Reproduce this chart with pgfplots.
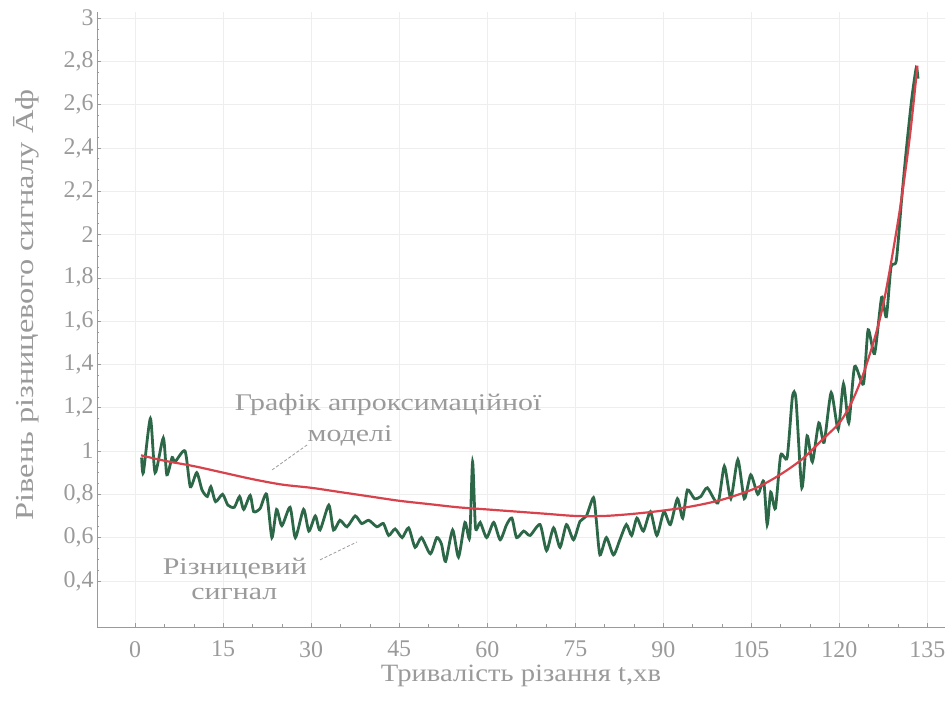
\documentclass[border=0pt]{standalone}
\usepackage{fontspec}
\setmainfont{Liberation Serif}
\newfontfamily\wideserif[FakeStretch=1.25]{Liberation Serif}
\newfontfamily\midserif[FakeStretch=1.15]{Liberation Serif}
\usepackage{pgfplots}
\pgfplotsset{compat=1.18}

\definecolor{sig}{HTML}{2C6848}
\definecolor{fit}{HTML}{D8424C}
\definecolor{txt}{HTML}{9A9A9A}
\definecolor{gridc}{HTML}{EEEEEE}

\begin{document}
\begin{tikzpicture}[x=1bp,y=1bp]
\path[use as bounding box] (-97,-79) rectangle (855,627);
\begin{axis}[
  at={(0,0)}, anchor=south west, scale only axis,
  width=848bp, height=615bp,
  xmin=-6.5, xmax=138, ymin=0.187, ymax=3.028,
  axis lines*=left,
  axis line style={txt, line width=0.8bp},
  xtick={0,15,30,45,60,75,90,105,120,135},
  ytick={0.4,0.6,0.8,1,1.2,1.4,1.6,1.8,2,2.2,2.4,2.6,2.8,3},
  minor y tick num=3, minor x tick num=2,
  major tick length=4bp, minor tick length=2.5bp,
  tick style={txt, line width=0.6bp},
  grid=major, major grid style={gridc, line width=0.6bp},
  tick label style={txt, font=\fontsize{24}{24}\selectfont},
  xticklabel style={inner sep=0pt, anchor=north, yshift=-14bp},
  /pgf/number format/use comma,
  /pgf/number format/assume math mode=true,
  xlabel={Тривалість різання t,хв},
  ylabel={Рівень різницевого сигналу Āф},
  every axis x label/.style={at={(axis description cs:0.5,-0.089)}, anchor=base,
     inner sep=0pt, txt, font=\midserif\fontsize{25}{25}\selectfont},
  every axis y label/.style={at={(axis description cs:-0.0837,0.5236)}, anchor=center,
     rotate=90, txt, font=\wideserif\fontsize{26}{26}\selectfont},
]

% measured difference signal
\addplot[sig, line width=2.8bp, smooth, tension=0.4] coordinates {
(1.1,0.97) (1.4,0.90) (2.6,1.15) (3.4,0.90) (4.8,1.06) (5.4,0.89) (6.3,0.97)
(6.8,0.95) (8.5,1.00) (9.4,0.835) (10.5,0.90) (11.4,0.82) (12.3,0.79) (12.9,0.835)
(13.7,0.766) (14.9,0.80) (15.8,0.75) (16.9,0.74) (17.8,0.79) (18.5,0.73) (19.6,0.795)
(20.2,0.72) (21.3,0.735) (22.4,0.80) (23.3,0.60) (24.1,0.73) (25.0,0.655) (26.4,0.74)
(27.3,0.60) (28.7,0.73) (29.6,0.63) (30.7,0.70) (31.5,0.635) (33.0,0.75) (33.8,0.635)
(34.9,0.68) (36.1,0.65) (37.5,0.70) (38.6,0.665) (39.8,0.68) (41.2,0.65) (42.3,0.665)
(43.2,0.61) (44.3,0.64) (45.5,0.60) (46.6,0.645) (47.7,0.555) (48.8,0.60) (50.3,0.525)
(51.4,0.60) (52.2,0.57) (52.9,0.49) (54.1,0.635) (55.1,0.51) (56.2,0.67) (57.0,0.60)
(57.5,0.95) (58.0,0.645) (58.8,0.67) (59.9,0.60) (61.1,0.67) (62.2,0.59) (63.3,0.66)
(64.2,0.69) (65.0,0.60) (66.2,0.63) (67.3,0.61) (69.0,0.66) (70.1,0.54) (71.3,0.645)
(72.4,0.555) (73.5,0.66) (74.7,0.59) (75.8,0.675) (76.9,0.70) (78.1,0.785) (78.6,0.675)
(79.2,0.52) (80.3,0.60) (81.5,0.52) (82.6,0.59) (83.7,0.66) (84.6,0.61) (85.5,0.69)
(86.6,0.63) (87.8,0.72) (88.9,0.61) (90.1,0.72) (91.2,0.66) (92.4,0.78) (93.3,0.69)
(94.1,0.82) (95.3,0.78) (96.4,0.79) (97.5,0.83) (99.3,0.76) (100.4,0.93) (101.5,0.78)
(102.7,0.96) (103.8,0.78) (104.9,0.89) (106.1,0.80) (107.1,0.86) (107.7,0.66) (108.3,0.81)
(109.1,0.735) (110.0,0.98) (111.1,0.97) (112.0,1.25) (112.6,1.24) (113.6,0.83) (114.5,1.07)
(115.4,0.95) (116.5,1.13) (117.4,1.04) (118.6,1.27) (119.8,1.10) (120.7,1.31) (121.6,1.13)
(122.6,1.39) (124.1,1.31) (124.9,1.56) (126.0,1.45) (127.2,1.71) (128.0,1.62) (128.8,1.85)
(129.7,1.88) (130.6,2.16) (131.4,2.39) (132.3,2.62) (133.1,2.77) (133.4,2.72)
};

% approximating model
\addplot[fit, line width=2.2bp, smooth] coordinates {
(1,0.98) (5,0.955) (10,0.93) (15,0.90) (20,0.87) (25,0.845) (30,0.83) (35,0.81)
(40,0.79) (45,0.77) (50,0.755) (55,0.74) (60,0.73) (65,0.72) (70,0.71) (75,0.70)
(80,0.70) (85,0.71) (90,0.725) (95,0.745) (100,0.775) (105,0.82) (108,0.86) (111,0.91)
(114,0.97) (117,1.05) (120,1.13) (122,1.22) (124,1.35) (126,1.52) (127.5,1.68)
(129,1.90) (130.5,2.15) (132,2.45) (133.3,2.78)
};

% callouts
\tikzset{callout/.style={txt, anchor=base, inner sep=0pt, font=\wideserif\fontsize{24}{24}\selectfont}}
\node[callout] at (axis cs:43.1,1.185) {Графік апроксимаційної};
\node[callout] at (axis cs:36.6,1.042) {моделі};
\draw[txt, line width=0.8bp, dash pattern=on 3bp off 2bp] (axis cs:29.3,1.028) -- (axis cs:23.3,0.912);
\node[callout] at (axis cs:17.0,0.430) {Різницевий};
\node[callout] at (axis cs:16.9,0.312) {сигнал};
\draw[txt, line width=0.8bp, dash pattern=on 3bp off 2bp] (axis cs:31.5,0.497) -- (axis cs:37.8,0.580);
\end{axis}
\end{tikzpicture}
\end{document}
